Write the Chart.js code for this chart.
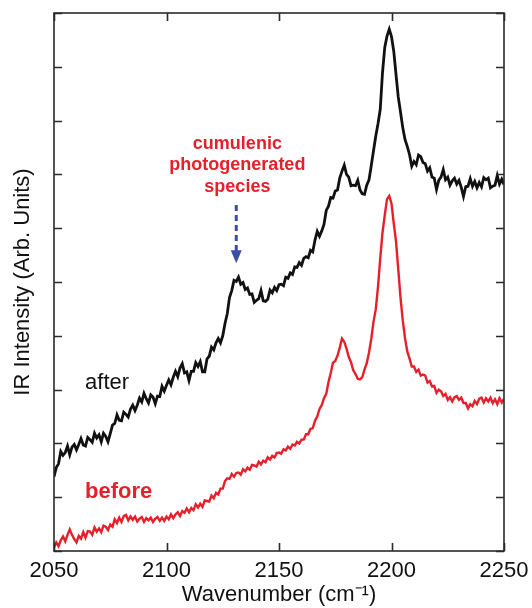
<!DOCTYPE html>
<html>
<head>
<meta charset="utf-8">
<script src="https://cdn.jsdelivr.net/npm/chart.js@4.4.1/dist/chart.umd.min.js"></script>
<style>
  html, body { margin: 0; padding: 0; background: #fff; }
  #irChart { display: block; }
</style>
</head>
<body>
<canvas id="irChart" width="532" height="608"></canvas>
<script>
// Spectral grid (cm-1), one point per wavenumber
const wnStart = 2050;
const wnEnd = 2250;
const wavenumbers = [];
for (let wn = wnStart; wn <= wnEnd; wn++) wavenumbers.push(wn);

const xTicks = [2050, 2100, 2150, 2200, 2250];

// IR intensity after irradiation (arb. units)
const afterIntensity = [
    13.8, 15.5, 16.2, 18.5, 17.8, 18.3, 19.5, 17.9, 19.3, 19.8,
    18.8, 19.8, 20.9, 19.7, 19.5, 21.1, 20.7, 20.2, 21.9, 21.0,
    21.6, 20.3, 21.9, 21.3, 20.3, 21.8, 23.4, 23.7, 25.3, 24.3,
    24.2, 25.8, 25.4, 24.9, 26.4, 27.1, 26.1, 27.1, 28.4, 27.7,
    29.3, 28.3, 27.5, 29.0, 28.6, 27.4, 28.8, 28.7, 30.6, 29.7,
    30.8, 31.8, 30.9, 32.3, 33.4, 32.4, 34.0, 34.8, 33.1, 33.3,
    31.7, 33.4, 33.4, 35.0, 34.3, 35.2, 33.3, 33.3, 35.7, 36.2,
    37.9, 37.4, 38.7, 39.5, 38.7, 40.0, 42.3, 44.1, 47.1, 48.4,
    50.3, 50.1, 50.9, 49.6, 49.9, 48.6, 48.9, 47.7, 47.8, 46.2,
    46.6, 46.9, 48.4, 46.5, 46.4, 46.8, 48.5, 48.0, 49.0, 48.4,
    49.5, 49.6, 49.3, 50.9, 50.7, 51.7, 51.4, 52.8, 52.7, 53.6,
    53.1, 54.4, 54.7, 54.5, 55.9, 55.6, 57.8, 59.4, 58.5, 59.5,
    60.7, 63.3, 64.1, 65.7, 65.6, 66.9, 67.1, 69.3, 70.6, 71.7,
    70.0, 69.5, 67.9, 68.0, 67.9, 68.9, 67.1, 66.4, 66.3, 68.0,
    69.0, 71.6, 74.4, 77.1, 79.4, 82.1, 88.9, 93.6, 95.7, 97.0,
    95.6, 92.9, 88.6, 84.4, 81.6, 78.7, 76.5, 75.2, 73.7, 71.5,
    72.4, 71.8, 73.6, 73.3, 72.2, 72.0, 70.6, 71.2, 69.5, 69.3,
    67.2, 68.9, 69.5, 70.9, 69.0, 69.5, 68.0, 68.8, 69.3, 68.2,
    68.9, 67.6, 65.9, 67.7, 67.8, 69.2, 67.8, 68.7, 67.5, 68.5,
    67.7, 69.4, 69.0, 69.3, 67.5, 67.8, 68.0, 69.8, 68.2, 69.1,
    68.1
];

// IR intensity before irradiation (arb. units)
const beforeIntensity = [
    0.7, 1.6, 0.9, 2.0, 2.7, 1.8, 3.0, 4.0, 3.0, 2.2,
    1.6, 2.8, 2.3, 3.5, 2.5, 3.7, 3.6, 3.0, 4.4, 3.6,
    4.2, 3.5, 4.7, 4.5, 3.9, 4.9, 4.5, 5.9, 5.2, 6.2,
    5.4, 6.5, 6.7, 5.7, 6.4, 5.8, 6.4, 5.5, 6.0, 6.3,
    5.4, 6.1, 5.7, 6.2, 5.4, 6.0, 6.3, 5.6, 6.2, 5.6,
    6.4, 5.9, 6.8, 6.1, 6.8, 7.2, 6.5, 7.4, 7.1, 7.9,
    7.2, 8.0, 7.6, 8.7, 8.1, 8.8, 8.2, 9.4, 9.3, 9.2,
    10.3, 9.8, 10.8, 10.5, 11.6, 11.6, 13.0, 13.5, 13.4, 14.3,
    13.8, 14.5, 14.6, 14.2, 15.2, 14.8, 15.5, 15.1, 16.0, 15.9,
    15.7, 16.6, 16.1, 16.8, 16.5, 17.4, 17.0, 17.7, 17.4, 18.2,
    18.3, 18.1, 18.9, 18.7, 19.4, 19.0, 19.8, 19.6, 20.3, 20.0,
    20.7, 20.7, 21.7, 21.7, 22.7, 22.8, 24.2, 25.0, 26.4, 27.1,
    28.4, 29.2, 31.4, 33.1, 35.0, 35.3, 36.3, 37.8, 39.5, 38.9,
    37.6, 36.1, 35.1, 33.6, 32.9, 32.0, 31.9, 32.3, 33.7, 34.9,
    36.9, 39.4, 42.6, 44.9, 49.1, 54.4, 59.2, 62.4, 65.4, 66.0,
    64.6, 60.9, 57.6, 52.4, 47.1, 42.9, 39.6, 37.1, 35.8, 34.3,
    34.3, 33.3, 33.7, 32.6, 32.8, 32.6, 31.3, 31.6, 30.6, 30.7,
    29.4, 30.0, 29.7, 28.8, 29.2, 28.1, 28.6, 27.8, 28.6, 28.8,
    28.1, 28.5, 27.5, 27.5, 26.5, 27.3, 26.9, 27.9, 27.3, 28.3,
    28.5, 27.6, 28.4, 27.8, 28.5, 27.5, 28.2, 27.3, 28.4, 27.6,
    28.3
];

// Annotation anchors in data units
const speciesLines = ['cumulenic', 'photogenerated', 'species'];
const speciesX = 2131.5;
const speciesY = [75.6, 71.7, 67.7];
const arrowX = 2131;
const arrowFrom = 64.3;
const arrowTo = 53.5;
const afterLabel = { text: 'after', x: 2063.8, y: 30.1 };
const beforeLabel = { text: 'before', x: 2063.8, y: 9.9 };

const FONT = "'Liberation Sans', Arial, Helvetica, sans-serif";
const RED = '#e5202b';

const toPoints = (vals) => vals.map((v, i) => ({ x: wavenumbers[i], y: v }));

// Box frame, inward ticks and the text/arrow annotations
const frameAndNotes = {
    id: 'frameAndNotes',
    afterDatasetsDraw(chart) {
        const { ctx, chartArea: a, scales: { x, y } } = chart;
        const tickLen = 8;
        ctx.save();
        ctx.strokeStyle = '#2a2a2a';
        ctx.lineWidth = 1.6;
        ctx.strokeRect(a.left, a.top, a.right - a.left, a.bottom - a.top);

        ctx.beginPath();
        x.ticks.forEach(t => {
            const px = Math.round(x.getPixelForValue(t.value)) + 0.5;
            ctx.moveTo(px, a.bottom); ctx.lineTo(px, a.bottom - tickLen);
            ctx.moveTo(px, a.top); ctx.lineTo(px, a.top + tickLen);
        });
        y.ticks.forEach(t => {
            const py = Math.round(y.getPixelForValue(t.value)) + 0.5;
            ctx.moveTo(a.left, py); ctx.lineTo(a.left + tickLen, py);
            ctx.moveTo(a.right, py); ctx.lineTo(a.right - tickLen, py);
        });
        ctx.stroke();

        // curve labels
        ctx.textAlign = 'left';
        ctx.textBaseline = 'alphabetic';
        ctx.fillStyle = '#111';
        ctx.font = `22px ${FONT}`;
        ctx.fillText(afterLabel.text, x.getPixelForValue(afterLabel.x), y.getPixelForValue(afterLabel.y));
        ctx.fillStyle = RED;
        ctx.font = `bold 22px ${FONT}`;
        ctx.fillText(beforeLabel.text, x.getPixelForValue(beforeLabel.x), y.getPixelForValue(beforeLabel.y));

        // species note
        ctx.textAlign = 'center';
        ctx.textBaseline = 'middle';
        ctx.font = `bold 18px ${FONT}`;
        speciesLines.forEach((line, i) => {
            ctx.fillText(line, x.getPixelForValue(speciesX), y.getPixelForValue(speciesY[i]));
        });

        // dashed arrow down to the shoulder
        const ax = x.getPixelForValue(arrowX);
        const y0 = y.getPixelForValue(arrowFrom);
        const y1 = y.getPixelForValue(arrowTo);
        ctx.strokeStyle = '#3c4ea3';
        ctx.fillStyle = '#3c4ea3';
        ctx.lineWidth = 3;
        ctx.setLineDash([6, 4]);
        ctx.beginPath();
        ctx.moveTo(ax, y0);
        ctx.lineTo(ax, y1 - 12);
        ctx.stroke();
        ctx.setLineDash([]);
        ctx.beginPath();
        ctx.moveTo(ax - 5.5, y1 - 13);
        ctx.lineTo(ax + 5.5, y1 - 13);
        ctx.lineTo(ax, y1);
        ctx.closePath();
        ctx.fill();
        ctx.restore();
    }
};

const ctx = document.getElementById('irChart').getContext('2d');
const irChart = new Chart(ctx, {
    type: 'line',
    data: {
        datasets: [{
            label: 'before',
            data: toPoints(beforeIntensity),
            borderColor: RED,
            borderWidth: 2.4,
        }, {
            label: 'after',
            data: toPoints(afterIntensity),
            borderColor: '#111',
            borderWidth: 2.8,
        }]
    },
    options: {
        responsive: false,
        animation: false,
        devicePixelRatio: 1,
        layout: { padding: { top: 13, right: 28, left: 0, bottom: 0 } },
        elements: { point: { radius: 0 }, line: { tension: 0 } },
        plugins: { legend: { display: false }, tooltip: { enabled: false } },
        scales: {
            x: {
                type: 'linear',
                min: wnStart,
                max: wnEnd,
                afterBuildTicks: (s) => { s.ticks = xTicks.map(v => ({ value: v })); },
                afterFit: (s) => {
                    s.height = 57;
                    s.paddingLeft = 0;
                    s.paddingRight = 0;
                },
                grid: { display: false, drawTicks: false },
                border: { display: false },
                ticks: {
                    color: '#111',
                    padding: 7,
                    font: { family: FONT, size: 22 },
                    callback: (v) => String(v)
                },
                title: {
                    display: true,
                    text: 'Wavenumber (cm⁻¹)',
                    color: '#111',
                    padding: { top: 0, bottom: 0 },
                    font: { family: FONT, size: 22 }
                }
            },
            y: {
                min: 0,
                max: 100,
                afterFit: (s) => { s.width = 54; },
                grid: { display: false, drawTicks: false },
                border: { display: false },
                ticks: { display: false, stepSize: 10 },
                title: {
                    display: true,
                    text: 'IR Intensity (Arb. Units)',
                    color: '#111',
                    padding: { top: 10, bottom: 0 },
                    font: { family: FONT, size: 22 }
                }
            }
        }
    },
    plugins: [frameAndNotes]
});
</script>
</body>
</html>
